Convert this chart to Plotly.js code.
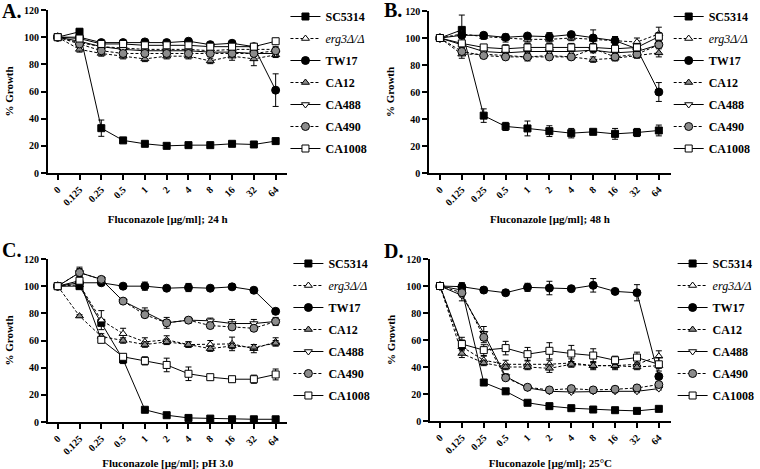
<!DOCTYPE html>
<html>
<head>
<meta charset="utf-8">
<script src="https://cdn.plot.ly/plotly-3.0.1.min.js"></script>
<style>
  html, body { margin: 0; padding: 0; background: white; }
  #chart { width: 760px; height: 469px; }
</style>
</head>
<body>
<div id="chart"></div>
<script>
// Fluconazole concentrations (category axis)
var cats = ['0', '0.125', '0.25', '0.5', '1', '2', '4', '8', '16', '32', '64'];
var strains = ['SC5314', 'erg3', 'TW17', 'CA12', 'CA488', 'CA490', 'CA1008'];

// A. 24 h
var A_SC5314 = [100, 104, 33, 24, 21.5, 20, 20.5, 20.5, 21.5, 21, 23.5];
var A_erg3   = [100, 96, 93, 92, 91, 91, 91, 90, 91, 91, 91];
var A_TW17   = [100, 100, 96, 96, 96.5, 96, 97, 94.5, 95.5, 93, 61];
var A_CA12   = [100, 91, 88, 86, 84, 86, 86, 82.5, 86, 84, 87];
var A_CA488  = [100, 97, 93, 91, 90, 90, 90, 89, 89, 88, 88];
var A_CA490  = [100, 95, 90, 88, 88, 88, 88, 88, 88, 88, 90];
var A_CA1008 = [100, 99, 95, 95, 94, 94, 94, 93, 93, 93, 97];
var A_err_SC5314 = [0, 2, 6, 1, 1, 0.5, 0.5, 0.5, 0.5, 0.5, 1];
var A_err_erg3   = [0, 2, 2, 2, 2, 2, 2, 2, 2, 2, 2];
var A_err_TW17   = [0, 1, 1, 1, 1, 1, 1, 1, 1, 1, 12];
var A_err_CA12   = [0, 2, 2, 2, 2, 2, 2, 2, 3, 5, 2];
var A_err_CA488  = [0, 1, 1, 1, 1, 1, 1, 1, 1, 1, 1];
var A_err_CA490  = [0, 1, 1, 1, 1, 1, 1, 1, 1, 1, 1];
var A_err_CA1008 = [0, 1, 1, 1, 1, 1, 1, 1, 1, 1, 2];

// B. 48 h
var B_SC5314 = [100, 106, 42.5, 34.5, 33, 31, 29.5, 30.5, 29, 30, 31.5];
var B_erg3   = [100, 103, 101, 100, 99, 99, 100, 99, 98, 97, 103];
var B_TW17   = [100, 102, 102, 100.5, 101.5, 101, 102.5, 100, 98, 92, 60];
var B_CA12   = [100, 88, 88, 87, 86, 87, 86, 84, 85, 87, 89];
var B_CA488  = [100, 95, 90, 89, 90, 90, 90, 91, 89, 90, 95];
var B_CA490  = [100, 90, 87, 86, 86, 86, 86, 92, 86, 88, 95];
var B_CA1008 = [100, 96, 93, 92, 93, 93, 93, 93, 92, 93, 101];
var B_err_SC5314 = [0, 11, 5, 3, 5.5, 4, 3.5, 1.5, 4, 3, 4];
var B_err_erg3   = [0, 2, 2, 3, 2, 2, 2, 3, 3, 3, 5];
var B_err_TW17   = [0, 1, 2, 2, 1.5, 3, 1.5, 6, 3, 2, 7];
var B_err_CA12   = [0, 3, 2, 2, 2, 2, 2, 2, 2, 2, 3];
var B_err_CA488  = [0, 2, 2, 2, 2, 2, 2, 2, 2, 2, 2];
var B_err_CA490  = [0, 2, 2, 2, 3, 2, 2, 2, 2, 2, 2];
var B_err_CA1008 = [0, 2, 2, 3, 3, 3, 3, 3, 3, 3, 3];

// C. pH 3.0
var C_SC5314 = [100, 100, 73, 46, 9, 5, 3, 2.5, 2, 2, 2];
var C_erg3   = [100, 101, 75, 65, 59, 60.5, 57, 57, 57.5, 54, 59];
var C_TW17   = [100, 102.5, 102.5, 100, 100, 98.5, 99, 98.5, 99.5, 97, 81.5];
var C_CA12   = [100, 78, 63, 60, 57, 59, 57, 54, 56, 55, 58];
var C_CA488  = [100, 110, 105, 89, 81, 73, 75, 74.5, 72.5, 72.5, 74];
var C_CA490  = [100, 110, 105, 89, 79, 73, 75, 71, 70, 69, 74];
var C_CA1008 = [100, 104, 60.5, 48, 45, 42, 35.5, 33, 31.5, 31.5, 35];
var C_err_SC5314 = [0, 2, 2, 3, 1, 1, 1, 1, 1, 1, 1];
var C_err_erg3   = [0, 2, 7, 4, 3, 3, 2, 3, 5, 3, 3];
var C_err_TW17   = [0, 1, 1, 1, 3, 1, 3, 1, 2, 2, 2];
var C_err_CA12   = [0, 1, 2, 2, 2, 2, 2, 2, 2, 2, 2];
var C_err_CA488  = [0, 4, 2, 1, 3, 4, 2, 2, 3, 3, 3];
var C_err_CA490  = [0, 3, 2, 1, 2, 2, 2, 2, 2, 2, 2];
var C_err_CA1008 = [0, 3, 2, 2, 3, 5, 5, 1, 2, 3, 4];

// D. 25°C
var D_SC5314 = [100, 97, 28.5, 22, 13.5, 11, 9.5, 8.5, 8, 7.5, 9];
var D_erg3   = [100, 55, 45, 42, 42, 42, 43, 41, 41, 42, 48];
var D_TW17   = [100, 99.5, 97, 95, 99, 98.5, 98, 100.5, 96, 95, 33];
var D_CA12   = [100, 50, 43, 40, 40, 39, 42, 41, 41, 40, 41];
var D_CA488  = [100, 93, 65, 33, 24.5, 22, 21.5, 22, 22, 22, 24];
var D_CA490  = [100, 95, 62, 32, 25, 23, 24, 23, 23.5, 24.5, 27];
var D_CA1008 = [100, 57, 52.5, 54, 49.5, 52, 50, 48.5, 45, 47, 42];
var D_err_SC5314 = [0, 3, 1, 1, 1, 1, 1, 1, 1, 1, 1];
var D_err_erg3   = [0, 5, 3, 3, 3, 3, 3, 3, 3, 3, 4];
var D_err_TW17   = [0, 3, 2, 2, 3, 5, 1, 5, 1, 6, 2];
var D_err_CA12   = [0, 3, 2, 2, 2, 3, 2, 2, 2, 2, 2];
var D_err_CA488  = [0, 4, 5, 2, 1, 1, 1, 1, 1, 1, 1];
var D_err_CA490  = [0, 3, 4, 2, 1, 1, 1, 1, 1, 1, 1];
var D_err_CA1008 = [0, 5, 4, 5, 5, 6, 6, 5, 3, 4, 5];

var panelData = [
  [A_SC5314, A_erg3, A_TW17, A_CA12, A_CA488, A_CA490, A_CA1008],
  [B_SC5314, B_erg3, B_TW17, B_CA12, B_CA488, B_CA490, B_CA1008],
  [C_SC5314, C_erg3, C_TW17, C_CA12, C_CA488, C_CA490, C_CA1008],
  [D_SC5314, D_erg3, D_TW17, D_CA12, D_CA488, D_CA490, D_CA1008]
];
var panelErr = [
  [A_err_SC5314, A_err_erg3, A_err_TW17, A_err_CA12, A_err_CA488, A_err_CA490, A_err_CA1008],
  [B_err_SC5314, B_err_erg3, B_err_TW17, B_err_CA12, B_err_CA488, B_err_CA490, B_err_CA1008],
  [C_err_SC5314, C_err_erg3, C_err_TW17, C_err_CA12, C_err_CA488, C_err_CA490, C_err_CA1008],
  [D_err_SC5314, D_err_erg3, D_err_TW17, D_err_CA12, D_err_CA488, D_err_CA490, D_err_CA1008]
];
var xTitles = ['Fluconazole [µg/ml]; 24 h', 'Fluconazole [µg/ml]; 48 h',
               'Fluconazole [µg/ml]; pH 3.0', 'Fluconazole [µg/ml]; 25°C'];

// marker / line style per strain
var styles = {
  SC5314: { symbol: 'square', fill: 'black', dash: 'solid', label: 'SC5314' },
  erg3:   { symbol: 'triangle-up', fill: 'white', dash: '3px,2px', label: '<span style="font-weight:normal"><i>erg3Δ/Δ</i></span>' },
  TW17:   { symbol: 'circle', fill: 'black', dash: 'solid', label: 'TW17' },
  CA12:   { symbol: 'triangle-up', fill: '#8c8c8c', dash: '3px,2px', label: 'CA12' },
  CA488:  { symbol: 'triangle-down', fill: 'white', dash: 'solid', label: 'CA488' },
  CA490:  { symbol: 'circle', fill: '#8c8c8c', dash: '3px,2px', label: 'CA490' },
  CA1008: { symbol: 'square', fill: 'white', dash: 'solid', label: 'CA1008' }
};

var font = "'Liberation Serif', 'Times New Roman', serif";
var data = [];
var sfx = ['', '2', '3', '4'];

for (var p = 0; p < 4; p++) {
  for (var s = 0; s < strains.length; s++) {
    var st = styles[strains[s]];
    data.push({
      x: cats,
      y: panelData[p][s],
      xaxis: 'x' + sfx[p],
      yaxis: 'y' + sfx[p],
      name: st.label,
      legend: 'legend' + sfx[p],
      legendgroup: 'p' + p + strains[s],
      type: 'scatter',
      mode: 'lines+markers',
      cliponaxis: false,
      line: { color: 'black', width: 1, dash: st.dash },
      marker: {
        symbol: st.symbol,
        size: st.symbol == 'circle' ? 8 : 7,
        color: st.fill,
        line: { color: 'black', width: 1 }
      },
      error_y: {
        type: 'data',
        array: panelErr[p][s],
        color: 'black',
        thickness: 1,
        width: 3
      }
    });
  }
}

function xAxis(dom, r, anchor, title) {
  return {
    domain: dom, range: r, anchor: anchor, type: 'category',
    showline: true, linecolor: 'black', linewidth: 2,
    ticks: 'outside', ticklen: 5, tickwidth: 2, tickcolor: 'black',
    tickangle: -45, showgrid: false, zeroline: false,
    tickfont: { family: font, size: 10, color: 'black', weight: 'bold' },
    title: { text: title, standoff: 8, font: { family: font, size: 11, color: 'black', weight: 'bold' } }
  };
}
function yAxis(dom, anchor) {
  return {
    domain: dom, range: [0, 120], anchor: anchor,
    tickvals: [0, 20, 40, 60, 80, 100, 120],
    showline: true, linecolor: 'black', linewidth: 2,
    ticks: 'outside', ticklen: 5, tickwidth: 2, tickcolor: 'black',
    showgrid: false, zeroline: false,
    tickfont: { family: font, size: 10, color: 'black', weight: 'bold' },
    title: { text: '% Growth', standoff: 8, font: { family: font, size: 11, color: 'black', weight: 'bold' } }
  };
}
function legendAt(x, y) {
  return {
    x: x / 760, y: 1 - y / 469, xanchor: 'left', yanchor: 'top',
    bgcolor: 'rgba(0,0,0,0)', tracegroupgap: 3,
    font: { family: font, size: 12, color: 'black', weight: 'bold' }
  };
}

var layout = {
  width: 760,
  height: 469,
  margin: { l: 0, r: 0, t: 0, b: 0 },
  paper_bgcolor: 'white',
  plot_bgcolor: 'white',
  xaxis:  xAxis([49 / 760, 294 / 760], [-0.45, 10.54], 'y', xTitles[0]),
  yaxis:  yAxis([296 / 469, 459 / 469], 'x'),
  xaxis2: xAxis([439 / 760, 686 / 760], [-0.49, 10.54], 'y2', xTitles[1]),
  yaxis2: yAxis([296 / 469, 458 / 469], 'x2'),
  xaxis3: xAxis([49 / 760, 294 / 760], [-0.45, 10.54], 'y3', xTitles[2]),
  yaxis3: yAxis([47 / 469, 210 / 469], 'x3'),
  xaxis4: xAxis([440 / 760, 686 / 760], [-0.45, 10.54], 'y4', xTitles[3]),
  yaxis4: yAxis([48 / 469, 210 / 469], 'x4'),
  legend:  legendAt(292, 2),
  legend2: legendAt(684, 2),
  legend3: legendAt(295, 249),
  legend4: legendAt(688, 249),
  showlegend: true,
  annotations: [
    { text: 'A.', x: 0, y: 1 - 11 / 469 },
    { text: 'B.', x: 391 / 760, y: 1 - 10 / 469 },
    { text: 'C.', x: 0, y: 1 - 250 / 469 },
    { text: 'D.', x: 391 / 760, y: 1 - 251 / 469 }
  ].map(function (a) {
    return {
      text: a.text, x: a.x, y: a.y, xref: 'paper', yref: 'paper',
      xanchor: 'left', yanchor: 'middle', showarrow: false,
      font: { family: font, size: 20, color: 'black', weight: 'bold' }
    };
  })
};

Plotly.newPlot('chart', data, layout, { displayModeBar: false });
</script>
</body>
</html>
